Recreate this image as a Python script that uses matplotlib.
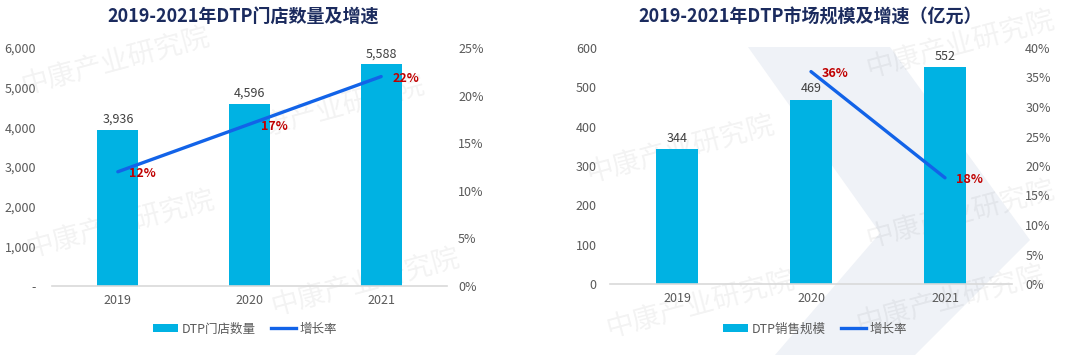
import numpy as np
import matplotlib
matplotlib.use('Agg')
import matplotlib.pyplot as plt
from matplotlib.patches import Polygon, Patch
from matplotlib.lines import Line2D

plt.rcParams['font.family'] = ['Noto Sans CJK SC', 'DejaVu Sans']

years = ['2019', '2020', '2021']

# left chart: store count
stores = [3936, 4596, 5588]
store_growth = [0.12, 0.17, 0.22]

# right chart: market size (100m yuan)
market = [344, 469, 552]
market_years_growth = ['2020', '2021']
market_growth = [0.36, 0.18]

titles = ['2019-2021年DTP门店数量及增速', '2019-2021年DTP市场规模及增速（亿元）']
bar_names = ['DTP门店数量', 'DTP销售规模']
line_name = '增长率'

BAR = '#00B2E3'
LINE = '#1263E8'
RED = '#C00000'
TICK = '#595959'
TITLE = '#1B2B5E'

W, H = 1080, 355
fig = plt.figure(figsize=(W / 100, H / 100), dpi=100)


def fx(px):
    return px / W


def fy(py):
    return 1 - py / H


# faint background chevron in the right panel
chev = [(748, 47), (890, 47), (1030, 240), (915, 355), (775, 355), (880, 233)]
fig.patches.append(Polygon([(fx(a), fy(b)) for a, b in chev], closed=True,
                           transform=fig.transFigure, facecolor='#EFF2F7',
                           edgecolor='none', zorder=-5))

# watermarks
for (x, y) in [(115, 62), (120, 225), (365, 283), (330, 110), (680, 150),
               (700, 305), (960, 215), (960, 45), (950, 300)]:
    fig.text(fx(x), fy(y), '中康产业研究院', fontsize=20, color='#000000', alpha=0.05,
             rotation=15, ha='center', va='center', zorder=-4)


def panel(rect, vals, ymax, ystep, fmt0, gx, gvals, gmax, title, title_x,
          bar_name, legend_x, lpad, rpad):
    ax = fig.add_axes(rect)
    ax.patch.set_visible(False)
    x = np.arange(len(years))
    ax.bar(x, vals, width=0.31, color=BAR, zorder=2)
    for xi, v in zip(x, vals):
        ax.annotate(f'{v:,}', (xi, v), xytext=(0, 3), textcoords='offset points',
                    ha='center', va='bottom', fontsize=9, color='#404040')
    ax.set_xlim(-0.5, len(years) - 0.5)
    ax.set_ylim(0, ymax)
    ticks = np.arange(0, ymax + 1, ystep)
    ax.set_yticks(ticks)
    ax.set_yticklabels([fmt0 if t == 0 else f'{int(t):,}' for t in ticks])
    ax.set_xticks(x)
    ax.set_xticklabels(years)
    for s in ['top', 'right', 'left']:
        ax.spines[s].set_visible(False)
    ax.spines['bottom'].set_color('#D9D9D9')
    ax.spines['bottom'].set_linewidth(1.2)
    ax.tick_params(axis='both', length=0, labelsize=9, colors=TICK)
    ax.tick_params(axis='y', pad=lpad)
    ax.tick_params(axis='x', pad=6)

    ax2 = ax.twinx()
    gxi = [years.index(g) for g in gx]
    ax2.plot(gxi, gvals, color=LINE, lw=2.4, solid_capstyle='round', zorder=3)
    for xi, g in zip(gxi, gvals):
        ax2.annotate(f'{g:.0%}', (xi, g), xytext=(8, -1.5), textcoords='offset points',
                     ha='left', va='center', fontsize=9, color=RED, fontweight='bold')
    ax2.set_ylim(0, gmax)
    gt = np.arange(0, gmax + 1e-9, 0.05)
    ax2.set_yticks(gt)
    ax2.set_yticklabels([f'{t:.0%}' for t in gt])
    for s in ax2.spines.values():
        s.set_visible(False)
    ax2.tick_params(axis='y', length=0, labelsize=9, colors=TICK, pad=rpad)

    fig.text(fx(title_x), fy(17), title, fontsize=13, fontweight='bold',
             color=TITLE, ha='center', va='center')
    handles = [Patch(facecolor=BAR, edgecolor='none'),
               Line2D([0], [0], color=LINE, lw=2.4)]
    fig.legend(handles, [bar_name, line_name], loc='center', ncol=2,
               bbox_to_anchor=(fx(legend_x), fy(329)), frameon=False,
               fontsize=9, labelcolor=TICK, handlelength=2.0, handleheight=0.6,
               handletextpad=0.3, columnspacing=1.2)
    return ax, ax2


panel([fx(52), fy(286), fx(447 - 52), (286 - 48) / H], stores, 6000, 1000, '-',
      years, store_growth, 0.25, titles[0], 243, bar_names[0], 245, 11.5, 8)

panel([fx(610), fy(284), fx(1012 - 610), (284 - 48) / H], market, 600, 100, '0',
      market_years_growth, market_growth, 0.40, titles[1], 810, bar_names[1], 815, 9.5, 9.5)

fig.savefig('out.png', dpi=100)
